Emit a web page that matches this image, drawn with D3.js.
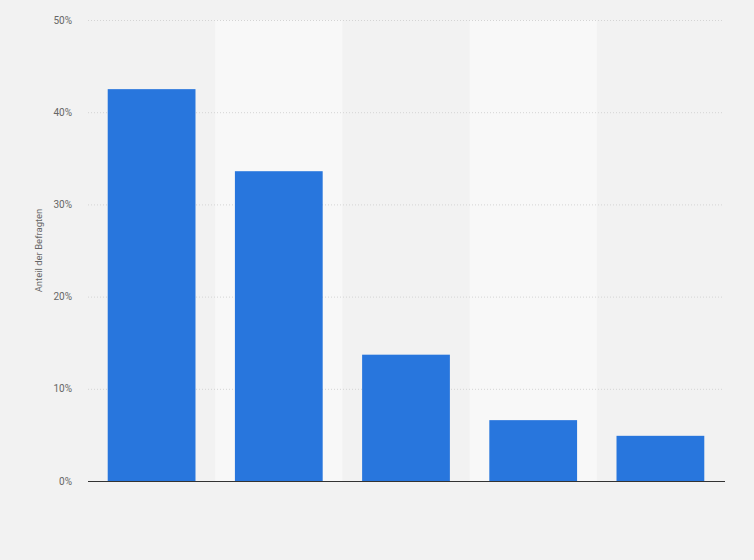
<!DOCTYPE html>
<html><head><meta charset="utf-8">
<script src="https://cdn.jsdelivr.net/npm/d3@7"></script>
<style>html,body{margin:0;padding:0;background:#f2f2f2;}svg{display:block;font-family:Roboto,"Liberation Sans",Arial,sans-serif;}</style>
</head><body>
<svg id="c" width="754" height="560"></svg>
<script>
const categories = ["A","B","C","D","E"];
const values = [42.5, 33.6, 13.7, 6.6, 4.9];
const yTicks = [0, 10, 20, 30, 40, 50];
const yLabel = "Anteil der Befragten";

const W = 754, H = 560;
const m = {left: 88, right: 30, top: 20, bottom: 79};
const svg = d3.select("#c");
svg.append("rect").attr("width", W).attr("height", H).attr("fill", "#f2f2f2");

const x = d3.scaleBand().domain(categories).range([m.left, W - m.right]).padding(0);
const y = d3.scaleLinear().domain([0, 50]).range([H - m.bottom, m.top]);

// alternating bands
svg.append("g").selectAll("rect").data(categories.filter((d,i)=>i%2===1)).join("rect")
  .attr("x", d => x(d)).attr("width", x.bandwidth())
  .attr("y", y(50)).attr("height", y(0) - y(50))
  .attr("fill", "#f8f8f8");

// grid
svg.append("g").selectAll("line").data(yTicks.filter(t => t > 0)).join("line")
  .attr("x1", m.left).attr("x2", W - m.right)
  .attr("y1", d => y(d) + 0.5).attr("y2", d => y(d) + 0.5)
  .attr("stroke", "#d4d4d4").attr("stroke-width", 1).attr("stroke-dasharray", "1,2");

// tick labels
svg.append("g").selectAll("text").data(yTicks).join("text")
  .attr("x", 72).attr("y", d => y(d)).attr("dy", "0.35em")
  .attr("text-anchor", "end").attr("font-size", 10).attr("fill", "#666")
  .text(d => d + "%");

// bars
const bw = x.bandwidth() * 0.69;
svg.append("g").selectAll("rect").data(values).join("rect")
  .attr("x", (d,i) => x(categories[i]) + (x.bandwidth() - bw) / 2)
  .attr("width", bw)
  .attr("y", d => y(d)).attr("height", d => y(0) - y(d))
  .attr("fill", "#2876dd");

// axis line
svg.append("line").attr("x1", m.left).attr("x2", W - m.right + 1)
  .attr("y1", y(0) + 0.5).attr("y2", y(0) + 0.5)
  .attr("stroke", "#333").attr("stroke-width", 1.2);

// y label
svg.append("text").attr("transform", `translate(42,${(y(0)+y(50))/2}) rotate(-90)`)
  .attr("text-anchor", "middle").attr("font-size", 9.5).attr("fill", "#666")
  .text(yLabel);
</script>
</body></html>
